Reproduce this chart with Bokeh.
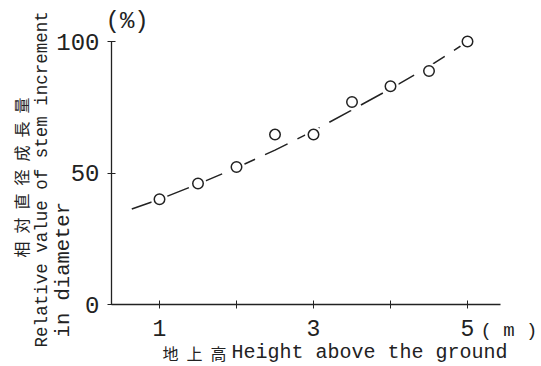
import math
from bokeh.plotting import figure
from bokeh.models import Label, FixedTicker, Range1d
from bokeh.embed import file_html
from bokeh.resources import INLINE

# observed points: height above ground (m) vs relative stem increment (%)
heights = [1.0, 1.5, 2.0, 2.5, 3.0, 3.5, 4.0, 4.5, 5.0]
relative = [40.0, 46.0, 52.3, 64.6, 64.6, 77.0, 83.0, 88.8, 100.0]

# fitted curve
curve_x = [0.64, 1.0, 1.5, 2.0, 2.5, 3.0, 3.5, 4.0, 4.5, 5.0]
curve_y = [36.3, 40.0, 45.8, 52.0, 58.7, 66.0, 74.0, 82.0, 90.5, 100.0]

x_ticks = [1, 2, 3, 4, 5]
x_tick_labels = {1: "1", 2: "", 3: "3", 4: "", 5: "5"}
y_ticks = [0, 50, 100]

INK = "#222222"
MONO = "Liberation Mono"
CJK = "Noto Sans CJK JP"

X0, X1 = 0.3766, 5.43   # extent of the drawn x axis line
p = figure(width=540, height=365, output_backend="svg", toolbar_location=None,
           x_range=Range1d(-1.065, 5.948), y_range=Range1d(-23.19, 115.59),
           min_border=0)
p.outline_line_color = None
p.grid.visible = False
p.background_fill_color = "white"
p.border_fill_color = "white"

p.line(curve_x, curve_y, line_color=INK, line_width=1.5, line_dash="25 11")
p.scatter(heights, relative, size=17, fill_color="white", line_color=None)
p.scatter(heights, relative, size=10.5, fill_color="white", line_color=INK,
          line_width=1.5)

xa = p.xaxis[0]
xa.fixed_location = 0
xa.ticker = FixedTicker(ticks=x_ticks)
xa.major_label_overrides = x_tick_labels
xa.bounds = (X0, X1)
xa.major_tick_in = 4
xa.major_tick_out = 4
xa.minor_tick_line_color = None
xa.axis_line_color = INK
xa.axis_line_width = 1.3
xa.major_tick_line_color = INK
xa.major_label_text_font = MONO
xa.major_label_text_font_size = "23px"
xa.major_label_text_color = INK
xa.major_label_standoff = 11

ya = p.yaxis[0]
ya.fixed_location = X0
ya.ticker = FixedTicker(ticks=y_ticks)
ya.bounds = (0, 100)
ya.major_tick_in = 4
ya.major_tick_out = 4
ya.minor_tick_line_color = None
ya.axis_line_color = INK
ya.axis_line_width = 1.3
ya.major_tick_line_color = INK
ya.major_label_text_font = MONO
ya.major_label_text_font_size = "24px"
ya.major_label_text_color = INK
ya.major_label_standoff = 8


def lab(x, y, text, font, size, angle=0.0, align="left", baseline="middle"):
    p.add_layout(Label(x=x, y=y, text=text, text_font=font,
                       text_font_size=size, text_color=INK, angle=angle,
                       text_align=align, text_baseline=baseline))


lab(0.299, 107.5, "(%)", MONO, "24px")
lab(5.169, -9.9, "( m )", MONO, "19px")
lab(1.039, -18.4, "地\u2002上\u2002高", CJK, "16px")
lab(1.935, -18.4, "Height above the ground", MONO, "20px")
lab(-0.805, 17.9, "相\u2002対\u2002直\u2002径\u2002成\u2002長\u2002量", CJK, "16px",
    angle=math.pi / 2)
lab(-0.532, -16.3, "Relative value of stem increment", MONO, "17.5px",
    angle=math.pi / 2)
lab(-0.247, -12.5, "in diameter", MONO, "20.5px", angle=math.pi / 2)

open("out.html", "w").write(file_html(p, INLINE))
